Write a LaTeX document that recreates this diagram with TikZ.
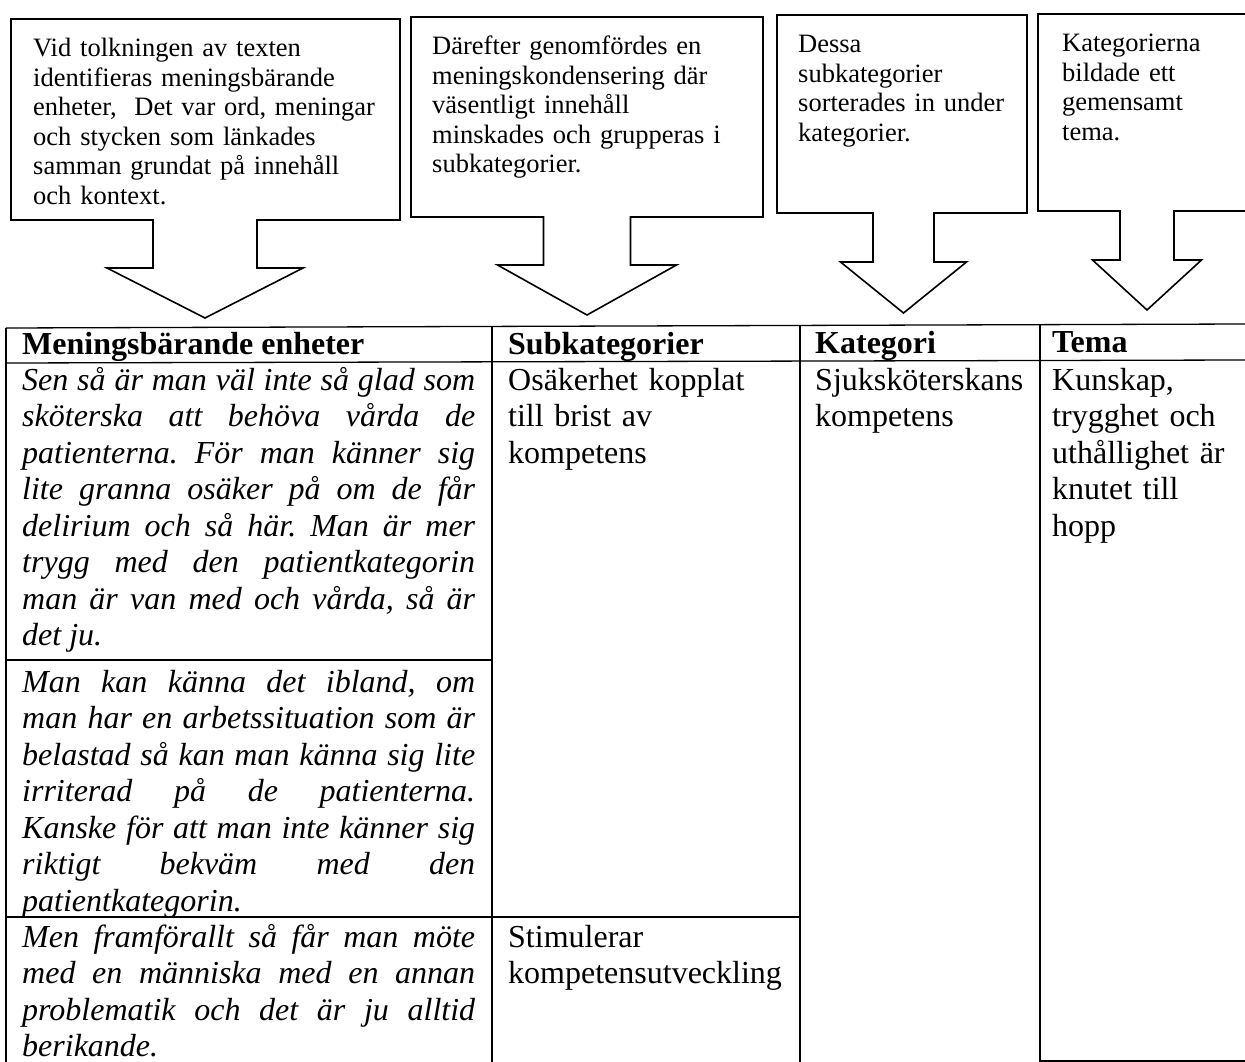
\documentclass[tikz,border=0pt]{standalone}
\usepackage{fontspec}
\setmainfont{Liberation Serif}
\tolerance=10000
\hyphenpenalty=10000
\frenchspacing
\begin{document}
\begin{tikzpicture}[x=1pt,y=-1pt,
  callout/.style={draw=black, line width=1.6pt, line join=miter, fill=white},
  grid/.style={draw=black, line width=1.3pt},
  ctext/.style={anchor=base west, inner sep=0pt, text width=#1, align=left, font=\fontsize{26.5}{29.5}\selectfont},
  head/.style={anchor=base west, inner sep=0pt, font=\fontsize{32}{36.5}\selectfont\bfseries},
  cell/.style={anchor=base west, inner sep=0pt, text width=#1, align=left, font=\fontsize{32}{36.5}\selectfont},
  quote/.style={anchor=base west, inner sep=0pt, text width=453pt, align=justify,
    font=\fontsize{32}{36.5}\selectfont\itshape}]
\useasboundingbox (0,0) rectangle (1245,1062);
\clip (0,0) rectangle (1245,1062);
\fill[white] (0,0) rectangle (1245,1062);

% callouts
\draw[callout] (11,19) -- (400,19) -- (400,220) -- (257,220) -- (257,268) -- (303,268) -- (205,318)
  -- (107,268) -- (153,268) -- (153,220) -- (11,220) -- cycle;
\draw[callout] (411,17) -- (763,17) -- (763,217) -- (630.5,217) -- (630.5,265) -- (676.5,265) -- (587,315)
  -- (497.5,265) -- (543.5,265) -- (543.5,217) -- (411,217) -- cycle;
\draw[callout] (777,15) -- (1027,15) -- (1027,213) -- (934,213) -- (934,262) -- (966.5,262) -- (903.5,313)
  -- (840.5,262) -- (873,262) -- (873,213) -- (777,213) -- cycle;
\draw[callout] (1038,14) -- (1262,14) -- (1262,211) -- (1174,211) -- (1174,260) -- (1201.5,260) -- (1147,310)
  -- (1092.5,260) -- (1120,260) -- (1120,211) -- (1038,211) -- cycle;

\node[ctext=360pt] (c1) at (33,57) {Vid tolkningen av texten\\identifieras meningsbärande\\enheter,\ \ Det var ord, meningar\\och stycken som länkades\\samman grundat på innehåll\\och kontext.};
\node[ctext=325pt] (c2) at (432,55) {Därefter genomfördes en\\meningskondensering där\\väsentligt innehåll\\minskades och grupperas i\\subkategorier.};
\node[ctext=225pt] (c3) at (798,53) {Dessa\\subkategorier\\sorterades in under\\kategorier.};
\node[ctext=180pt] (c4) at (1062,52) {Kategorierna\\bildade ett\\gemensamt\\tema.};

% table grid
\draw[grid] (6,328) -- (1245,324);
\draw[grid] (6,363) -- (1245,360);
\draw[grid] (6,328) -- (6,1062);
\draw[grid] (492,327) -- (492,1062);
\draw[grid] (800,326) -- (800,1062);
\draw[grid] (1040,325) -- (1040,1062);
\draw[grid] (6,660) -- (492,660);
\draw[grid] (6,917) -- (800,917);
\draw[grid] (1040,1061) -- (1245,1061);

% headers
\node[head] (h1) at (22,354) {Meningsbärande enheter};
\node[head] (h2) at (508,354) {Subkategorier};
\node[head] (h3) at (815,353) {Kategori};
\node[head] (h4) at (1052,352) {Tema};

% column 1
\node[quote] (r1) at (22,390) {Sen så är man väl inte så glad som\linebreak
sköterska att behöva vårda de\linebreak
patienterna. För man känner sig\linebreak
lite granna osäker på om de får\linebreak
delirium och så här. Man är mer\linebreak
trygg med den patientkategorin\linebreak
man är van med och vårda, så är\linebreak
det ju.};
\node[quote] (r2) at (22,692) {Man kan känna det ibland, om\linebreak
man har en arbetssituation som är\linebreak
belastad så kan man känna sig lite\linebreak
irriterad på de patienterna.\linebreak
Kanske för att man inte känner sig\linebreak
riktigt bekväm med den\linebreak
patientkategorin.};
\node[quote] (r3) at (22,947) {Men framförallt så får man möte\linebreak
med en människa med en annan\linebreak
problematik och det är ju alltid\linebreak
berikande.};

% other columns
\node[cell=285pt] (s1) at (508,390) {Osäkerhet kopplat\\till brist av\\kompetens};
\node[cell=285pt] (s2) at (508,947) {Stimulerar\\kompetensutveckling};
\node[cell=222pt] (k1) at (815,390) {Sjuksköterskans\\kompetens};
\node[cell=190pt] (t1) at (1052,390) {Kunskap,\\trygghet och\\uthållighet är\\knutet till\\hopp};
\end{tikzpicture}
\end{document}
